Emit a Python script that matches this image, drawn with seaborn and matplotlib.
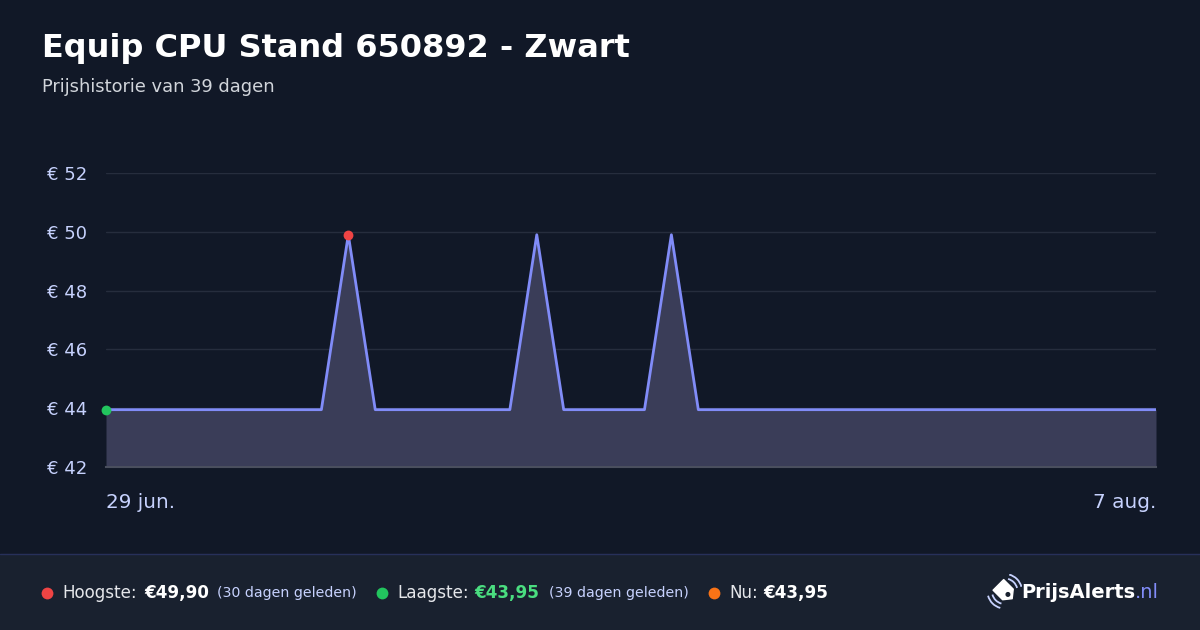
import matplotlib
matplotlib.use("Agg")
import matplotlib.pyplot as plt
import matplotlib.patches as mpatches
import numpy as np
import pandas as pd
import seaborn as sns

# price history, one value per day (29 jun .. 7 aug)
dates = pd.date_range("2024-06-29", "2024-08-07", freq="D")
prices = [43.95] * 40
prices[9] = 49.90
prices[16] = 49.90
prices[21] = 49.90

y_ticks = [42, 44, 46, 48, 50, 52]
x_labels = ["29 jun.", "7 aug."]

title = "Equip CPU Stand 650892 - Zwart"
subtitle = "Prijshistorie van 39 dagen"

BG = "#111827"
FOOT = "#19212f"
LINE = "#818cf8"
FILL = "#3a3d58"
GRID = "#262d3d"
TICK = "#c7d2fe"

sns.set_theme(style="dark")
plt.rcParams["font.family"] = ["DejaVu Sans"]

df = pd.DataFrame({"date": dates, "price": prices})

fig = plt.figure(figsize=(12, 6.3), dpi=100, facecolor=BG)
ax = fig.add_axes([106 / 1200, 1 - 467 / 630, 1050 / 1200, 294 / 630])
ax.set_facecolor(BG)

ax.fill_between(df["date"], 42, df["price"], color=FILL, lw=0, zorder=1)
sns.lineplot(data=df, x="date", y="price", ax=ax, color=LINE, lw=2, zorder=3)

lo = df.iloc[0]
hi = df.iloc[int(np.argmax(prices))]
ax.scatter([lo["date"]], [lo["price"]], s=50, color="#22c55e", zorder=5, lw=0, clip_on=False)
ax.scatter([hi["date"]], [hi["price"]], s=50, color="#ef4444", zorder=5, lw=0, clip_on=False)

ax.set_xlim(dates[0], dates[-1])
ax.set_ylim(42, 52)
ax.set_yticks(y_ticks)
ax.set_yticklabels([f"€ {v}" for v in y_ticks])
ax.set_xticks([])
ax.grid(axis="y", color=GRID, lw=1)
ax.grid(axis="x", visible=False)
ax.tick_params(axis="y", length=0, pad=13.5, labelsize=13, labelcolor=TICK)
ax.set_xlabel("")
ax.set_ylabel("")
for s in ["top", "right", "left"]:
    ax.spines[s].set_visible(False)
ax.spines["bottom"].set_color("#4a4f5e")
ax.spines["bottom"].set_linewidth(1.5)

ax.text(0, -36 / 294, x_labels[0], transform=ax.transAxes, ha="left", va="center",
        fontsize=14.4, color=TICK)
ax.text(1, -36 / 294, x_labels[1], transform=ax.transAxes, ha="right", va="center",
        fontsize=14.4, color=TICK)

# header
fig.text(42 / 1200, 1 - 48 / 630, title, fontsize=23, fontweight="bold",
         color="white", ha="left", va="center")
fig.text(42 / 1200, 1 - 87 / 630, subtitle, fontsize=12.9, color="#d1d5db",
         ha="left", va="center")

# footer
fig.add_artist(mpatches.Rectangle((0, 0), 1, 76 / 630, transform=fig.transFigure,
                                  color=FOOT, zorder=-5))
fig.add_artist(plt.Line2D([0, 1], [76 / 630, 76 / 630], transform=fig.transFigure,
                          color="#27305a", lw=1, zorder=-4))

fy = 1 - 593 / 630


def ftxt(x, s, **kw):
    fig.text(x / 1200, fy, s, ha="left", va="center", **kw)


def fdot(x, c):
    fig.add_artist(plt.Line2D([x / 1200], [fy], transform=fig.transFigure, marker="o",
                              ms=8.5, color=c, mew=0))


fdot(47, "#ef4444")
ftxt(62, "Hoogste:", fontsize=12.1, color="#e5e7eb")
ftxt(144, "€49,90", fontsize=12.1, color="white", fontweight="bold")
ftxt(217, "(30 dagen geleden)", fontsize=10.15, color=TICK)
fdot(382, "#22c55e")
ftxt(397, "Laagste:", fontsize=12.1, color="#e5e7eb")
ftxt(474, "€43,95", fontsize=12.1, color="#4ade80", fontweight="bold")
ftxt(549, "(39 dagen geleden)", fontsize=10.15, color=TICK)
fdot(714, "#f97316")
ftxt(729, "Nu:", fontsize=12.1, color="#e5e7eb")
ftxt(763, "€43,95", fontsize=12.1, color="white", fontweight="bold")

# logo: tag icon with signal arcs
lg = fig.add_axes([986 / 1200, 1 - 610 / 630, 36 / 1200, 36 / 630], zorder=10)
lg.set_xlim(0, 24)
lg.set_ylim(0, 24)
lg.axis("off")
cx, cy = 12.5, 12.5
ang = np.deg2rad(-45)
rot = np.array([[np.cos(ang), -np.sin(ang)], [np.sin(ang), np.cos(ang)]])
tag_pts = np.array([[7, 0], [3, 5], [-6, 5], [-6, -5], [3, -5]]) @ rot.T + [cx, cy]
lg.add_patch(mpatches.Polygon(tag_pts, closed=True, color="white", joinstyle="round"))
lg.add_patch(mpatches.Circle(np.array([3.0, 0]) @ rot.T + [cx, cy], 1.2, color=FOOT))
for r in (8.5, 11.5):
    lg.add_patch(mpatches.Arc((cx, cy), 2 * r, 2 * r, theta1=15, theta2=75,
                              color=TICK, lw=1.3))
    lg.add_patch(mpatches.Arc((cx, cy), 2 * r, 2 * r, theta1=195, theta2=255,
                              color=TICK, lw=1.3))
fig.text(1021 / 1200, fy, "PrijsAlerts", fontsize=14, fontweight="bold", color="white",
         ha="left", va="center")
fig.text(1159 / 1200, fy, ".nl", fontsize=14, color=LINE, ha="right", va="center")

fig.savefig("out.png", dpi=100, facecolor=BG)
